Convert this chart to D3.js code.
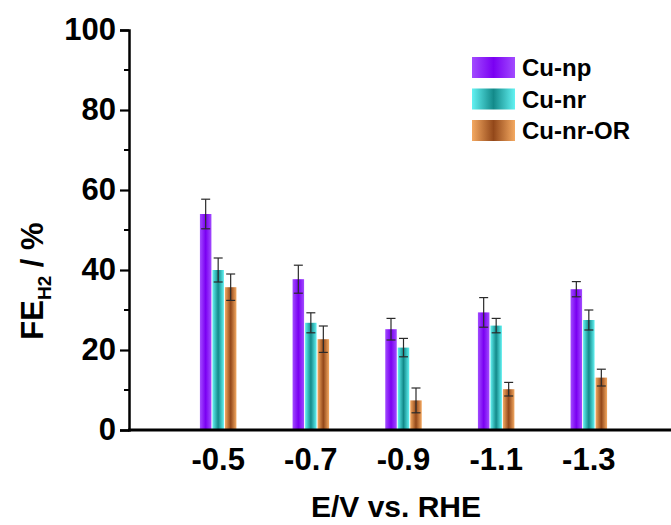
<!DOCTYPE html>
<html>
<head>
<meta charset="utf-8">
<script src="https://cdn.jsdelivr.net/npm/d3@7"></script>
<style>
  html, body { margin: 0; padding: 0; background: #fff; }
  svg { display: block; }
  text { font-family: "Liberation Sans", Arial, sans-serif; font-weight: bold; fill: #000; }
</style>
</head>
<body>
<svg id="chart" width="671" height="525"></svg>
<script>
// Potentials (V vs. RHE)
const potentials = [-0.5, -0.7, -0.9, -1.1, -1.3];
const potentialLabels = ["-0.5", "-0.7", "-0.9", "-1.1", "-1.3"];

// Series names
const seriesNames = ["Cu-np", "Cu-nr", "Cu-nr-OR"];

// H2 Faradaic efficiency (%) and error
const cuNp     = [54.0, 37.7, 25.2, 29.4, 35.2];
const cuNpErr  = [3.7, 3.5, 2.7, 3.7, 1.9];
const cuNr     = [40.0, 26.8, 20.6, 26.1, 27.5];
const cuNrErr  = [3.0, 2.5, 2.3, 1.8, 2.5];
const cuNrOr   = [35.7, 22.7, 7.4, 10.2, 13.1];
const cuNrOrErr= [3.3, 3.3, 3.1, 1.7, 2.1];

const yTicks = [0, 20, 40, 60, 80, 100];
const yMinorTicks = [10, 30, 50, 70, 90];

const series = [
  { name: seriesNames[0], values: cuNp,   errors: cuNpErr,   light: "#a24bff", dark: "#7a00f2" },
  { name: seriesNames[1], values: cuNr,   errors: cuNrErr,   light: "#62f2f2", dark: "#138a8a" },
  { name: seriesNames[2], values: cuNrOr, errors: cuNrOrErr, light: "#f4a961", dark: "#93481a" }
];

const svg = d3.select("#chart");
const W = 671, H = 525;
const axisX = 129;

const x = d3.scaleLinear().domain([-0.3, -1.5]).range([125.5, 681.5]);
const y = d3.scaleLinear().domain([0, 100]).range([430, 30]);

const barW = 11.5;
const offsets = [-12.5, 0, 12.5];

// horizontal shading gradients for the bars
const defs = svg.append("defs");
series.forEach((s, i) => {
  const g = defs.append("linearGradient").attr("id", "grad" + i)
    .attr("x1", "0%").attr("x2", "100%").attr("y1", "0%").attr("y2", "0%");
  g.append("stop").attr("offset", "0%").attr("stop-color", s.light);
  g.append("stop").attr("offset", "50%").attr("stop-color", s.dark);
  g.append("stop").attr("offset", "100%").attr("stop-color", s.light);
});

// bars
series.forEach((s, i) => {
  svg.append("g").selectAll("rect").data(s.values).join("rect")
    .attr("x", (d, j) => x(potentials[j]) + offsets[i] - barW / 2)
    .attr("y", d => y(d))
    .attr("width", barW)
    .attr("height", d => y(0) - y(d))
    .attr("fill", `url(#grad${i})`);
});

// error bars
series.forEach((s, i) => {
  const eg = svg.append("g").attr("stroke", "#2a2a2a").attr("stroke-width", 1.2);
  s.values.forEach((v, j) => {
    const cx = x(potentials[j]) + offsets[i];
    const e = s.errors[j];
    eg.append("line").attr("x1", cx).attr("x2", cx).attr("y1", y(v + e)).attr("y2", y(v - e));
    eg.append("line").attr("x1", cx - 4.5).attr("x2", cx + 4.5).attr("y1", y(v + e)).attr("y2", y(v + e));
    eg.append("line").attr("x1", cx - 4.5).attr("x2", cx + 4.5).attr("y1", y(v - e)).attr("y2", y(v - e));
  });
});

// y axis
const yAxis = svg.append("g").attr("transform", `translate(${axisX},0)`)
  .call(d3.axisLeft(y).tickValues(yTicks).tickSize(9).tickPadding(4).tickFormat(d3.format("d")));
yAxis.select(".domain").attr("stroke-width", 2.5).attr("stroke", "#000");
yAxis.selectAll(".tick line").attr("stroke-width", 2.2).attr("stroke", "#000");
yAxis.selectAll(".tick text").style("font-size", "31px").style("font-family", "Liberation Sans, Arial, sans-serif")
  .style("font-weight", "bold").attr("fill", "#000");
svg.append("g").selectAll("line").data(yMinorTicks).join("line")
  .attr("x1", axisX - 5).attr("x2", axisX).attr("y1", d => y(d)).attr("y2", d => y(d))
  .attr("stroke", "#000").attr("stroke-width", 2);

// x axis baseline and labels
svg.append("line").attr("x1", axisX - 1).attr("x2", W).attr("y1", y(0)).attr("y2", y(0))
  .attr("stroke", "#000").attr("stroke-width", 3);
svg.append("g").selectAll("text").data(potentials).join("text")
  .attr("x", d => x(d)).attr("y", 470)
  .attr("text-anchor", "middle").style("font-size", "31px")
  .text((d, i) => potentialLabels[i]);

// axis titles
svg.append("text").attr("x", 396).attr("y", 517).attr("text-anchor", "middle")
  .style("font-size", "30px").text("E/V vs. RHE");

const yt = svg.append("text").attr("transform", "translate(43,281) rotate(-90)")
  .attr("text-anchor", "middle").style("font-size", "31px");
yt.append("tspan").text("FE");
yt.append("tspan").attr("dy", 8).style("font-size", "19px").text("H2");
yt.append("tspan").attr("dy", -8).text(" / %");

// legend
const legend = svg.append("g");
series.forEach((s, i) => {
  const ly = 67.5 + i * 31.5;
  legend.append("rect").attr("x", 472).attr("y", ly - 10.5).attr("width", 43).attr("height", 21)
    .attr("fill", `url(#grad${i})`);
  legend.append("text").attr("x", 522).attr("y", ly + 8.5).style("font-size", "24px").text(s.name);
});
</script>
</body>
</html>
